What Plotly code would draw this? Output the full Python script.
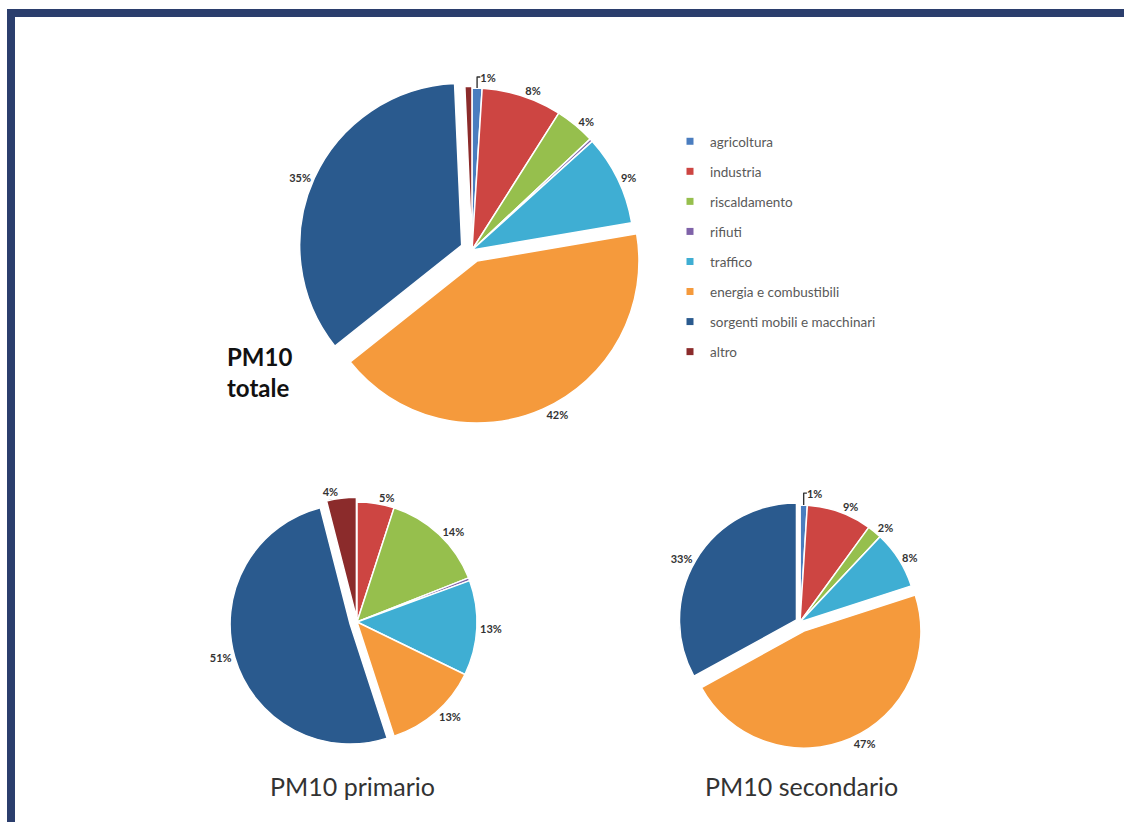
import plotly.graph_objects as go

# Emission sources and their colours
categories = [
    "agricoltura", "industria", "riscaldamento", "rifiuti", "traffico",
    "energia e combustibili", "sorgenti mobili e macchinari", "altro",
]
colors = ["#4a7dbf", "#cd4542", "#96bf4d", "#7f62a8", "#3faed3",
          "#f59a3c", "#2a5a8e", "#8b2b2b"]

# Share (%) of each source
pm10_totale = [1.0, 8, 4, 0.3, 9, 42, 35, 0.7]
pm10_primario = [0, 5, 14, 0.4, 12.8, 12.8, 51, 4]
pm10_secondario = [1, 9, 2, 0, 8, 47, 33, 0]

# Exploded slices
pull_totale = [0, 0, 0, 0, 0, 0.075, 0.07, 0.01]
pull_primario = [0, 0, 0, 0, 0, 0, 0.06, 0.04]
pull_secondario = [0, 0, 0, 0, 0, 0.085, 0.035, 0]

W, H = 1124, 822
FRAME = "#2b3e6d"


def pie_domain(cx, cy, r, pull):
    half = r * (1 + max(pull))
    return dict(x=[(cx - half) / W, (cx + half) / W],
                y=[1 - (cy + half) / H, 1 - (cy - half) / H])


def pct_labels(values):
    total = sum(values)
    return [f"{100 * v / total:.0f}%" if v / total >= 0.01 else "" for v in values]


def make_pie(values, pull, domain):
    return go.Pie(
        labels=categories,
        values=values,
        text=pct_labels(values),
        texttemplate="%{text}",
        textposition="outside",
        textfont=dict(family="Lato", size=11, color="#333333", weight="bold"),
        marker=dict(colors=colors, line=dict(color="white", width=1.5)),
        pull=pull,
        sort=False,
        direction="clockwise",
        rotation=0,
        domain=domain,
        showlegend=False,
        hoverinfo="label+percent",
    )


fig = go.Figure()
fig.add_trace(make_pie(pm10_totale, pull_totale, pie_domain(472, 250, 162, pull_totale)))
fig.add_trace(make_pie(pm10_primario, pull_primario, pie_domain(357, 622, 120, pull_primario)))
fig.add_trace(make_pie(pm10_secondario, pull_secondario, pie_domain(800, 622, 117, pull_secondario)))

# Legend entries, one per source
for name, col in zip(categories, colors):
    fig.add_trace(go.Scatter(
        x=[None], y=[None], mode="markers", name=name, legendgroup=name,
        marker=dict(symbol="square", size=7, color=col),
    ))

fig.add_annotation(x=225 / W, y=1 - 340 / H, xref="paper", yref="paper",
                   xanchor="left", yanchor="top", align="left", showarrow=False,
                   text="<b>PM10<br>totale</b>",
                   font=dict(family="Lato", size=24, color="#111111"))
fig.add_annotation(x=352 / W, y=1 - 786 / H, xref="paper", yref="paper",
                   xanchor="center", yanchor="middle", showarrow=False,
                   text="PM10 primario",
                   font=dict(family="Lato", size=25, color="#333333"))
fig.add_annotation(x=801 / W, y=1 - 786 / H, xref="paper", yref="paper",
                   xanchor="center", yanchor="middle", showarrow=False,
                   text="PM10 secondario",
                   font=dict(family="Lato", size=25, color="#333333"))

# Frame along the top and left edges
fig.add_shape(type="rect", xref="paper", yref="paper", line_width=0, fillcolor=FRAME,
              x0=7 / W, x1=1, y0=1 - 17 / H, y1=1 - 9 / H)
fig.add_shape(type="rect", xref="paper", yref="paper", line_width=0, fillcolor=FRAME,
              x0=7 / W, x1=15 / W, y0=0, y1=1 - 9 / H)

fig.update_layout(
    width=W, height=H,
    margin=dict(l=0, r=0, t=0, b=0),
    paper_bgcolor="white", plot_bgcolor="white",
    xaxis=dict(visible=False), yaxis=dict(visible=False),
    legend=dict(x=670 / W, y=1 - 126 / H, xanchor="left", yanchor="top",
                tracegroupgap=9.5, itemclick=False,
                font=dict(family="Lato", size=13.5, color="#595959")),
)

fig.write_html("out.html")
